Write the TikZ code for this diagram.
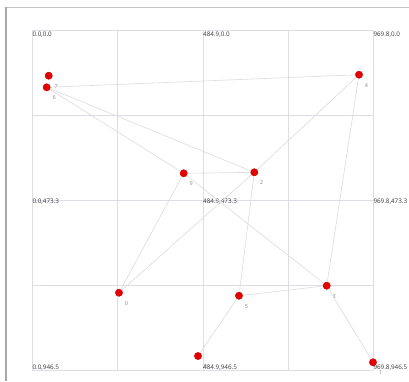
\documentclass[tikz,border=0pt]{standalone}
\usepackage{fontspec}
\setmainfont{Open Sans}
\usetikzlibrary{calc}
\definecolor{gridc}{HTML}{DDDDE8}
\definecolor{edgec}{HTML}{DCDCDC}
\definecolor{framec}{HTML}{C4C4C4}
\definecolor{dotfill}{HTML}{E50000}
\definecolor{dotdraw}{HTML}{C80000}
\definecolor{lblc}{HTML}{8A8A8A}
\definecolor{axc}{HTML}{3A3A3A}
\tikzset{
  gridline/.style={draw=gridc, line width=0.8pt},
  edgeline/.style={draw=edgec, line width=0.6pt},
  dot/.style={circle, fill=dotfill, draw=dotdraw, line width=0.3pt, minimum size=7.4pt, inner sep=0pt},
  lbl/.style={text=lblc, font=\fontsize{5.5}{6}\selectfont, inner sep=0pt},
  axlbl/.style={text=axc, font=\fontsize{6.3}{7}\selectfont, inner sep=0pt, anchor=west},
}
\begin{document}
\begin{tikzpicture}[x=1pt, y=-1pt]
\useasboundingbox (0,0) rectangle (409,381);
\fill[white] (0,0) rectangle (409,381);
% frame
\draw[framec, line width=1pt] (6,7.3) -- (409,7.3);
\draw[framec!85!black, line width=1.6pt] (6,7.3) -- (6,381);
% grid
\foreach \gx in {32.3,117.5,203,288,373.3} \draw[gridline] (\gx,30.3) -- (\gx,370.3);
\foreach \gy in {30.3,115,200.3,285.3,370.3} \draw[gridline] (32.3,\gy) -- (373.3,\gy);
% axis labels
\node[axlbl] (a00) at (32.3,34.3) {0.0,0.0};
\node[axlbl] (a10) at (203,34.3) {484.9,0.0};
\node[axlbl] (a20) at (373.3,34.3) {969.8,0.0};
\node[axlbl] (a01) at (32.3,201.3) {0.0,473.3};
\node[axlbl] (a11) at (203,201.3) {484.9,473.3};
\node[axlbl] (a21) at (373.3,201.3) {969.8,473.3};
\node[axlbl] (a02) at (32.3,367.7) {0.0,946.5};
\node[axlbl] (a12) at (203,367.7) {484.9,946.5};
\node[axlbl] (a22) at (373.3,367.7) {969.8,946.5};
% nodes
\node[dot] (n0) at (119,292.7) {};
\node[dot] (n1) at (373,362.3) {};
\node[dot] (n2) at (254.3,172.3) {};
\node[dot] (n3) at (326.7,285.7) {};
\node[dot] (n4) at (359,74.7) {};
\node[dot] (n5) at (239,295.7) {};
\node[dot] (n6) at (46.7,87.3) {};
\node[dot] (n7) at (48.7,75.7) {};
\node[dot] (n8) at (198,356) {};
\node[dot] (n9) at (183.7,173.3) {};
\foreach \i in {0,...,9} {
  \node[lbl] (l\i) at ($(n\i.center)+(7.5,10.5)$) {\i};
}
% edges
\draw[edgeline] (n6) -- (n4);
\draw[edgeline] (n6) -- (n9);
\draw[edgeline] (n6) -- (n2);
\draw[edgeline] (n9) -- (n2);
\draw[edgeline] (n4) -- (n2);
\draw[edgeline] (n2) -- (n0);
\draw[edgeline] (n4) -- (n3);
\draw[edgeline] (n9) -- (n0);
\draw[edgeline] (n2) -- (n5);
\draw[edgeline] (n9) -- (n3);
\draw[edgeline] (n5) -- (n3);
\draw[edgeline] (n5) -- (n8);
\draw[edgeline] (n3) -- (n1);
\end{tikzpicture}
\end{document}
